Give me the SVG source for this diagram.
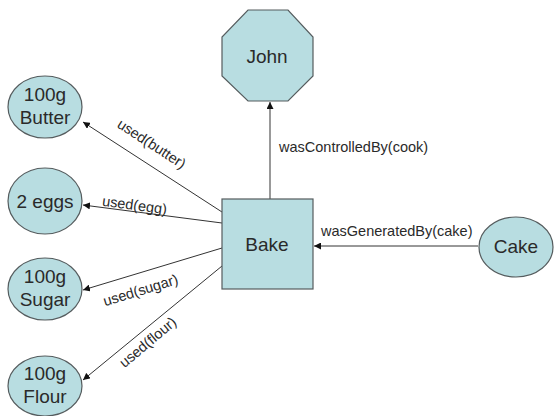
<svg xmlns="http://www.w3.org/2000/svg" width="554" height="416" viewBox="0 0 554 416">
<defs>
<style>
.node{fill:#b8dde1;stroke:#555c5e;stroke-width:1.2}
.nt{font-family:"Liberation Sans",Arial,sans-serif;font-size:19px;fill:#2a2a2a;text-anchor:middle}
.et{font-family:"Liberation Sans",Arial,sans-serif;font-size:14.5px;fill:#2a2a2a}
.edge{stroke:#333;stroke-width:1;fill:none;marker-end:url(#ah)}
.edge2{stroke:#999;stroke-width:2;fill:none;marker-end:url(#ah)}
</style>
<marker id="ah" viewBox="0 0 10 10" refX="10" refY="5" markerWidth="7" markerHeight="7" markerUnits="userSpaceOnUse" orient="auto">
<path d="M0,0 L10,5 L0,10 z" fill="#111"/>
</marker>
</defs>
<rect width="554" height="416" fill="#fff"/>
<g id="connectors">
<line class="edge2" x1="270" y1="199" x2="270" y2="102"/>
<line class="edge" x1="478" y1="246" x2="314" y2="246"/>
<line class="edge" x1="222" y1="212" x2="83" y2="122"/>
<line class="edge" x1="222" y1="223" x2="83" y2="205"/>
<line class="edge" x1="222" y1="248" x2="83" y2="290"/>
<line class="edge" x1="222" y1="266" x2="83" y2="380"/>
<text class="et" x="279" y="152">wasControlledBy(cook)</text>
<text class="et" x="321" y="236">wasGeneratedBy(cake)</text>
<text class="et" transform="translate(149,148) rotate(33)" text-anchor="middle">used(butter)</text>
<text class="et" transform="translate(134,210) rotate(7.5)" text-anchor="middle">used(egg)</text>
<text class="et" transform="translate(142,295) rotate(-17)" text-anchor="middle">used(sugar)</text>
<text class="et" transform="translate(151,346) rotate(-40)" text-anchor="middle">used(flour)</text>
</g>
<g id="john">
<polygon class="node" points="248,10 288,10 313,37 313,76 288,101 248,101 222,76 222,37"/>
<text class="nt" x="267" y="63">John</text>
</g>
<g id="bake">
<rect class="node" x="222" y="199" width="91" height="90"/>
<text class="nt" x="267" y="251">Bake</text>
</g>
<g id="cake">
<ellipse class="node" cx="516" cy="247" rx="37" ry="30"/>
<text class="nt" x="516" y="253">Cake</text>
</g>
<g id="butter">
<ellipse class="node" cx="45" cy="107" rx="37" ry="31"/>
<text class="nt" x="45" y="101">100g</text>
<text class="nt" x="45" y="124">Butter</text>
</g>
<g id="eggs">
<ellipse class="node" cx="45" cy="201" rx="37" ry="33"/>
<text class="nt" x="45" y="208">2 eggs</text>
</g>
<g id="sugar">
<ellipse class="node" cx="45" cy="289" rx="37" ry="31"/>
<text class="nt" x="45" y="283">100g</text>
<text class="nt" x="45" y="306">Sugar</text>
</g>
<g id="flour">
<ellipse class="node" cx="45" cy="386" rx="37" ry="30"/>
<text class="nt" x="45" y="380">100g</text>
<text class="nt" x="45" y="403">Flour</text>
</g>
</svg>
